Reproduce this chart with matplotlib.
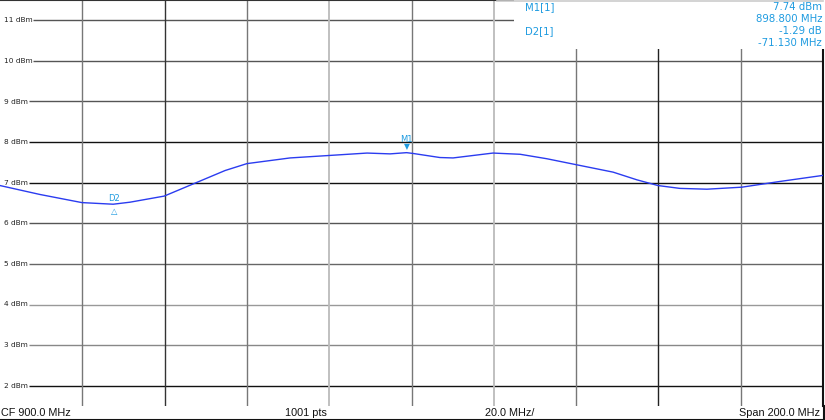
import matplotlib
matplotlib.use('Agg')
import matplotlib.pyplot as plt
from matplotlib.patches import Rectangle

# trace (MHz, dBm)
freq = [800.0, 809.7, 819.9, 827.5, 831.6, 839.9, 848.6, 854.7, 860.0, 870.5,
        879.9, 889.2, 894.8, 898.8, 900.4, 906.9, 910.1, 919.8, 926.4, 932.9,
        940.2, 949.0, 954.8, 959.9, 965.2, 971.8, 980.3, 989.5, 1000.0]
level = [6.93, 6.71, 6.51, 6.47, 6.52, 6.67, 7.04, 7.30, 7.47, 7.61,
         7.67, 7.73, 7.71, 7.74, 7.72, 7.62, 7.61, 7.73, 7.70, 7.59,
         7.44, 7.26, 7.07, 6.93, 6.86, 6.84, 6.89, 7.03, 7.18]

y_ticks = [11, 10, 9, 8, 7, 6, 5, 4, 3, 2]
x_grid = [820, 840, 860, 880, 900, 920, 940, 960, 980]

m1_freq, m1_level = 898.8, 7.74
d2_freq, d2_level = 827.67, 6.45
marker_names = ['M1[1]', 'D2[1]']
marker_vals = ['7.74 dBm', '898.800 MHz', '-1.29 dB', '-71.130 MHz']
footer = ['CF 900.0 MHz', '1001 pts', '20.0 MHz/', 'Span 200.0 MHz']

fig = plt.figure(figsize=(8.25, 4.2), dpi=100)
ax = fig.add_axes([0, 14 / 420, 823 / 825, 406 / 420])
ax.set_xlim(800, 1000)
ax.set_ylim(1.5, 11.5)
ax.set_xticks([])
ax.set_yticks([])
for s in ['left', 'bottom']:
    ax.spines[s].set_visible(False)
ax.spines['top'].set_color('#333333')
ax.spines['right'].set_color('#111111')
ax.spines['right'].set_linewidth(1.5)

# grid - horizontal lines start right after the level label
hcol = {11: '#555555', 10: '#555555', 9: '#555555', 8: '#111111', 7: '#111111',
        6: '#555555', 5: '#666666', 4: '#999999', 3: '#888888', 2: '#111111'}
for v in y_ticks:
    x0 = 808.0 if v >= 10 else 807.0
    ax.hlines(v, x0, 1000, color=hcol[v], lw=1, zorder=1)
    ax.text(801.0, v, f'{v} dBm', fontsize=5.3, color='#222222', va='center', ha='left', zorder=3)
vcol = {820: '#777777', 840: '#333333', 860: '#777777', 880: '#bbbbbb', 900: '#777777',
        920: '#bbbbbb', 940: '#777777', 960: '#222222', 980: '#777777'}
for f in x_grid:
    ax.axvline(f, color=vcol[f], lw=1.3 if vcol[f] == '#bbbbbb' else 1, zorder=1)

# trace
ax.plot(freq, level, color='#2b3cf0', lw=1, zorder=4)

# markers
mc = '#1e9be0'
ax.annotate('\u25bc', (m1_freq, m1_level), xytext=(0, 1), textcoords='offset points',
            ha='center', va='bottom', fontsize=5.5, color=mc, zorder=5)
ax.annotate('M1', (m1_freq, m1_level), xytext=(0, 6.5), textcoords='offset points',
            ha='center', va='bottom', fontsize=6, color=mc, zorder=5)
ax.annotate('\u25b3', (d2_freq, d2_level), xytext=(0, -1.5), textcoords='offset points',
            ha='center', va='top', fontsize=6, color=mc, zorder=5)
ax.annotate('D2', (d2_freq, d2_level), xytext=(0, 1.5), textcoords='offset points',
            ha='center', va='bottom', fontsize=6, color=mc, zorder=5)

# marker table box (figure pixels)
box = Rectangle((514 / 825, 1 - 49 / 420), 311 / 825, 49 / 420, transform=fig.transFigure,
                facecolor='white', edgecolor='none', zorder=10)
fig.patches.append(box)
fig.add_artist(plt.Line2D([497 / 825, 823 / 825], [1 - 0.5 / 420] * 2, color='#cccccc', lw=1.2, zorder=11))
tk = dict(fontsize=7.3, color=mc, zorder=12, family='DejaVu Sans')
fig.text(525 / 825, 1 - 7 / 420, marker_names[0], va='center', ha='left', **tk)
fig.text(525 / 825, 1 - 31 / 420, marker_names[1], va='center', ha='left', **tk)
for i, s in enumerate(marker_vals):
    fig.text(822 / 825, 1 - (7 + 12 * i) / 420, s, va='center', ha='right', **tk)

# footer strip
fk = dict(fontsize=7.8, color='#111111', family=['Liberation Sans Narrow', 'Liberation Sans', 'DejaVu Sans'])
yb = 6.5 / 420
fig.text(1 / 825, yb, footer[0], ha='left', va='center', **fk)
fig.text(285 / 825, yb, footer[1], ha='left', va='center', **fk)
fig.text(485 / 825, yb, footer[2], ha='left', va='center', **fk)
fig.text(820 / 825, yb, footer[3], ha='right', va='center', **fk)
fig.add_artist(plt.Line2D([0, 824 / 825], [0.5 / 420, 0.5 / 420], color='#111111', lw=1.5))
fig.add_artist(plt.Line2D([823.5 / 825, 823.5 / 825], [0, 14 / 420], color='#111111', lw=1.5))

fig.savefig('out.png', dpi=100)
